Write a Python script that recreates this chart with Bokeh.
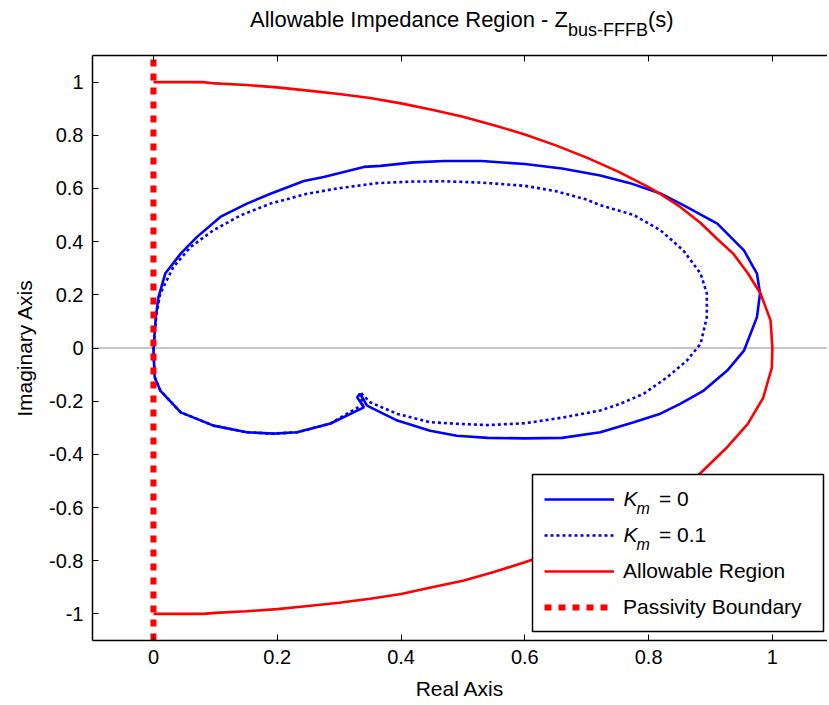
from bokeh.plotting import figure
from bokeh.layouts import column
from bokeh.models import (Range1d, FixedTicker, LinearAxis, Span, Legend,
                          LegendItem, Label, BoxAnnotation, Div)
from bokeh.embed import file_html
from bokeh.resources import INLINE

# ---------------- data ----------------
km0_x = [0.000, 0.002, 0.004, 0.008, 0.019, 0.044, 0.070, 0.108, 0.151, 0.189,
         0.243, 0.275, 0.340, 0.367, 0.420, 0.470, 0.530, 0.600, 0.660, 0.722,
         0.770, 0.819, 0.856, 0.911, 0.954, 0.975, 0.980, 0.975, 0.954, 0.927,
         0.889, 0.851, 0.819, 0.776, 0.722, 0.660, 0.600, 0.540, 0.490, 0.447,
         0.394, 0.345, 0.334, 0.329, 0.340, 0.286, 0.232, 0.194, 0.151, 0.097,
         0.044, 0.011, 0.002, 0.000]
km0_y = [-0.010, 0.060, 0.120, 0.190, 0.280, 0.355, 0.417, 0.493, 0.543, 0.580,
         0.628, 0.643, 0.681, 0.685, 0.698, 0.703, 0.703, 0.692, 0.675, 0.649,
         0.620, 0.581, 0.537, 0.468, 0.367, 0.280, 0.205, 0.116, -0.010, -0.085,
         -0.160, -0.210, -0.247, -0.279, -0.317, -0.338, -0.340, -0.338, -0.330, -0.311,
         -0.273, -0.217, -0.173, -0.185, -0.223, -0.284, -0.317, -0.322, -0.317, -0.292,
         -0.242, -0.160, -0.110, -0.010]

km01_x = [0.000, 0.002, 0.005, 0.011, 0.032, 0.060, 0.097, 0.141, 0.189, 0.248,
          0.297, 0.361, 0.420, 0.470, 0.530, 0.600, 0.650, 0.700, 0.722, 0.776,
          0.819, 0.856, 0.884, 0.894, 0.894, 0.884, 0.862, 0.830, 0.792, 0.754,
          0.722, 0.660, 0.600, 0.540, 0.490, 0.447, 0.394, 0.350, 0.334, 0.332,
          0.340, 0.286, 0.232, 0.194, 0.151, 0.097, 0.044, 0.011, 0.002, 0.000]
km01_y = [-0.010, 0.060, 0.130, 0.205, 0.304, 0.380, 0.443, 0.499, 0.543, 0.580,
          0.600, 0.620, 0.626, 0.627, 0.622, 0.610, 0.590, 0.558, 0.537, 0.500,
          0.443, 0.367, 0.280, 0.205, 0.116, 0.016, -0.047, -0.110, -0.172, -0.210,
          -0.235, -0.262, -0.283, -0.290, -0.285, -0.279, -0.248, -0.204, -0.166, -0.180,
          -0.210, -0.284, -0.317, -0.322, -0.317, -0.292, -0.242, -0.160, -0.110, -0.010]

allow_x = [0.000, 0.080, 0.100, 0.150, 0.200, 0.250, 0.300, 0.350, 0.400, 0.450,
           0.500, 0.550, 0.600, 0.650, 0.700, 0.750, 0.800, 0.820, 0.850, 0.884,
           0.910, 0.937, 0.960, 0.981, 0.997, 1.000,
           0.999, 0.985, 0.960, 0.924, 0.884, 0.850, 0.800, 0.750, 0.700, 0.650,
           0.600, 0.550, 0.500, 0.450, 0.400, 0.350, 0.300, 0.250, 0.200, 0.150,
           0.100, 0.080, 0.000]
allow_y = [1.000, 1.000, 0.995, 0.989, 0.980, 0.968, 0.955, 0.940, 0.920, 0.896,
           0.870, 0.838, 0.803, 0.762, 0.716, 0.664, 0.605, 0.578, 0.532, 0.470,
           0.412, 0.354, 0.282, 0.204, 0.104, 0.000,
           -0.075, -0.188, -0.286, -0.380, -0.470, -0.532, -0.605, -0.664, -0.716, -0.765,
           -0.806, -0.842, -0.875, -0.900, -0.925, -0.943, -0.958, -0.970, -0.982, -0.990,
           -0.996, -1.000, -1.000]

passivity_x = [0.0, 0.0]
passivity_y = [-1.1, 1.1]

x_ticks = [0, 0.2, 0.4, 0.6, 0.8, 1.0]
x_tick_labels = ["0", "0.2", "0.4", "0.6", "0.8", "1"]
y_ticks = [-1.0, -0.8, -0.6, -0.4, -0.2, 0, 0.2, 0.4, 0.6, 0.8, 1.0]
y_tick_labels = ["-1", "-0.8", "-0.6", "-0.4", "-0.2", "0", "0.2", "0.4", "0.6", "0.8", "1"]

km_values = ["= 0", "= 0.1"]
red_labels = ["Allowable Region", "Passivity Boundary"]
title_main = "Allowable Impedance Region - Z"
title_sub = "bus-FFFB"
title_tail = "(s)"

FONT = "Liberation Sans"

# ---------------- layout (pixels) ----------------
FL, FT, FW, FH = 92, 55, 735, 585          # frame left/top/width/height on page
DIV_H = 44
XR0, XR1 = -0.0985, 1.089
YR0, YR1 = -1.1, 1.1


def dx(px):
    return XR0 + (px - FL) * (XR1 - XR0) / FW


def dy(py):
    return YR1 - (py - FT) * (YR1 - YR0) / FH


p = figure(frame_width=FW, frame_height=FH,
           x_range=Range1d(XR0, XR1), y_range=Range1d(YR0, YR1),
           output_backend="svg", toolbar_location=None, title=None,
           min_border_left=FL, min_border_right=0, min_border_top=FT - DIV_H,
           min_border_bottom=64)
p.outline_line_color = None
p.grid.visible = False
p.background_fill_color = "white"
p.border_fill_color = "white"

zero = Span(location=0, dimension="width", line_color="#8c8c8c", line_width=1, level="underlay")
p.add_layout(zero)

r_km0 = p.line(km0_x, km0_y, line_color="#0000ff", line_width=2.6)
r_km01 = p.line(km01_x, km01_y, line_color="#0000ff", line_width=2.6, line_dash="3 3")
r_allow = p.line(allow_x, allow_y, line_color="#ff0000", line_width=2.6)
r_pass = p.line(passivity_x, passivity_y, line_color="#ff0000", line_width=6, line_dash="7 7")


def style_axis(ax, ticks, labels, show_labels=True):
    ax.ticker = FixedTicker(ticks=ticks)
    ax.major_label_overrides = {t: l for t, l in zip(ticks, labels)}
    ax.major_tick_in = 6
    ax.major_tick_out = 0
    ax.minor_tick_line_color = None
    ax.axis_line_width = 1.5
    ax.axis_line_color = "#000000"
    ax.major_tick_line_color = "#000000"
    ax.major_tick_line_width = 1
    ax.major_label_text_font = FONT
    ax.major_label_text_font_size = "20px" if show_labels else "1px"
    ax.major_label_text_color = "#000000" if show_labels else None
    ax.axis_label_text_font = FONT
    ax.axis_label_text_font_size = "21px"
    ax.axis_label_text_font_style = "normal"
    ax.axis_label_text_color = "#000000"


style_axis(p.xaxis[0], x_ticks, x_tick_labels)
p.xaxis[0].axis_label = "Real Axis"
p.xaxis[0].major_label_standoff = 9
p.xaxis[0].axis_label_standoff = 10

style_axis(p.yaxis[0], y_ticks, y_tick_labels)
p.yaxis[0].axis_label = "Imaginary Axis"
p.yaxis[0].major_label_standoff = 9
p.yaxis[0].axis_label_standoff = 10

top_axis = LinearAxis()
style_axis(top_axis, x_ticks, x_tick_labels, show_labels=False)
top_axis.major_label_standoff = 0
p.add_layout(top_axis, "above")

# ---------------- legend ----------------
box = BoxAnnotation(left=dx(532), right=dx(823), top=dy(474), bottom=dy(631),
                    fill_color="white", fill_alpha=1.0, line_color="#000000",
                    line_width=1.5, line_alpha=1.0)
p.add_layout(box)

leg_common = dict(glyph_width=70, glyph_height=26, label_height=26, spacing=10,
                  padding=0, margin=0, border_line_color=None,
                  background_fill_alpha=0.0, label_text_font=FONT,
                  label_text_font_size="21px", label_text_color="#000000")
leg_a = Legend(items=[LegendItem(label=km_values[0], renderers=[r_km0]),
                      LegendItem(label=km_values[1], renderers=[r_km01])],
               location=(544 - FL, 640 - 548), label_standoff=45, **leg_common)
leg_b = Legend(items=[LegendItem(label=red_labels[0], renderers=[r_allow]),
                      LegendItem(label=red_labels[1], renderers=[r_pass])],
               location=(544 - FL, 640 - 620), label_standoff=9, **leg_common)
p.add_layout(leg_a, "center")
p.add_layout(leg_b, "center")

for row in [499, 535]:
    p.add_layout(Label(x=dx(623), y=dy(row - 1.5), text="K",
                       text_font=FONT, text_font_size="21px", text_font_style="italic",
                       text_baseline="alphabetic", text_color="#000000"))
    p.add_layout(Label(x=dx(636), y=dy(row + 8.5), text="m",
                       text_font=FONT, text_font_size="16px", text_font_style="italic",
                       text_baseline="alphabetic", text_color="#000000"))

# ---------------- title (HTML text above the figure) ----------------
title_html = (
    f'<div style="font-family:\'{FONT}\',Arial,sans-serif;font-size:22px;line-height:22px;'
    f'color:#000;white-space:nowrap;margin-left:250px;padding-top:9px;">'
    f'{title_main}<span style="font-size:18px;position:relative;top:9px;">{title_sub}</span>'
    f'{title_tail}</div>'
)
title_div = Div(text=title_html, width=FL + FW, height=DIV_H, margin=0,
                styles={"overflow": "visible"})

layout = column(title_div, p, spacing=0)

open("out.html", "w").write(file_html(layout, INLINE))
